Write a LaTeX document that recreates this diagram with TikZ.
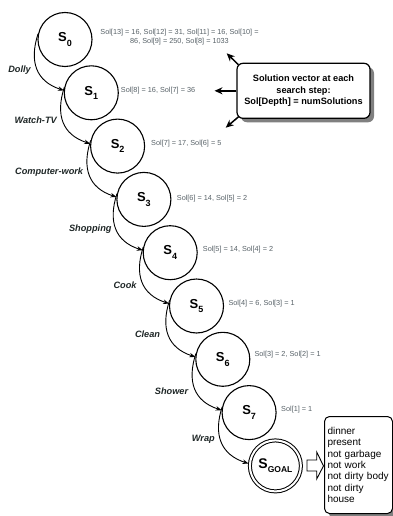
\documentclass[tikz,border=0pt]{standalone}
\usepackage{fontspec}
\setmainfont{Liberation Sans}
\usetikzlibrary{arrows.meta,shadows,calc}
\definecolor{solgray}{RGB}{88,98,104}
\definecolor{labdark}{RGB}{30,38,38}
\newcommand\stname[1]{{\fontsize{13}{13}\selectfont\bfseries S\raisebox{-4.5pt}{\fontsize{9}{9}\selectfont #1}}}
\begin{document}
\begin{tikzpicture}[x=1pt,y=1pt,
  state/.style={circle,draw,line width=1.1pt,minimum size=54pt,inner sep=0pt},
  chainarrow/.style={-{Stealth[length=6pt,width=4.5pt]},line width=0.9pt,looseness=1.2},
  act/.style={font=\fontsize{9.2}{10}\selectfont\bfseries\itshape,text=labdark,inner sep=0pt,anchor=east},
  sol/.style={font=\fontsize{7.3}{9}\selectfont,text=solgray,inner sep=0pt,anchor=west},
  callarrow/.style={-{Stealth[length=8pt,width=7pt]},line width=1.5pt},
  shadowed/.style={drop shadow={shadow xshift=4pt,shadow yshift=-4pt,fill=black!50,opacity=1}},
]
\useasboundingbox (0,0) rectangle (392,-516);

% states
\node[state] (S0) at (65,-39.5) {\stname{0}};
\node[state] (S1) at (91.3,-92.8) {\stname{1}};
\node[state] (S2) at (117.6,-146.1) {\stname{2}};
\node[state] (S3) at (143.9,-199.4) {\stname{3}};
\node[state] (S4) at (170.2,-252.7) {\stname{4}};
\node[state] (S5) at (196.5,-306) {\stname{5}};
\node[state] (S6) at (222.8,-359.3) {\stname{6}};
\node[state] (S7) at (249.1,-412.6) {\stname{7}};
\node[state,double,double distance=2pt,line width=1pt,minimum size=51pt,outer sep=1.5pt] (S8) at (275.4,-465.9)
  {{\fontsize{14}{14}\selectfont\bfseries S\raisebox{-4pt}{\fontsize{8.5}{8.5}\selectfont GOAL}}};

% transitions
\draw[chainarrow] (S0.168) to[out=-108,in=162] (S1.175);
\draw[chainarrow] (S1.168) to[out=-108,in=162] (S2.175);
\draw[chainarrow] (S2.168) to[out=-108,in=162] (S3.175);
\draw[chainarrow] (S3.168) to[out=-108,in=162] (S4.175);
\draw[chainarrow] (S4.168) to[out=-108,in=162] (S5.175);
\draw[chainarrow] (S5.168) to[out=-108,in=162] (S6.175);
\draw[chainarrow] (S6.168) to[out=-108,in=162] (S7.175);
\draw[chainarrow] (S7.168) to[out=-108,in=162] (S8.175);

% action labels
\node[act] (a0) at (31,-70) {Dolly};
\node[act] (a1) at (57,-120) {Watch-TV};
\node[act] (a2) at (83.3,-172) {Computer-work};
\node[act] (a3) at (111.7,-229.5) {Shopping};
\node[act] (a4) at (136.7,-285.7) {Cook};
\node[act] (a5) at (160.3,-334) {Clean};
\node[act] (a6) at (188.3,-391.7) {Shower};
\node[act] (a7) at (215,-439) {Wrap};

% solution vectors
\node[sol,anchor=center,align=center] (v0) at (179.5,-37) {Sol[13] = 16, Sol[12] = 31, Sol[11] = 16, Sol[10] =\\86, Sol[9] = 250, Sol[8] = 1033};
\node[sol] (v1) at (120.7,-91) {Sol[8] = 16, Sol[7] = 36};
\node[sol] (v2) at (151,-143.3) {Sol[7] = 17, Sol[6] = 5};
\node[sol] (v3) at (176.7,-198.3) {Sol[6] = 14, Sol[5] = 2};
\node[sol] (v4) at (202.7,-250) {Sol[5] = 14, Sol[4] = 2};
\node[sol] (v5) at (228.3,-303.3) {Sol[4] = 6, Sol[3] = 1};
\node[sol] (v6) at (254.3,-355) {Sol[3] = 2, Sol[2] = 1};
\node[sol] (v7) at (281,-410) {Sol[1] = 1};

% callout
\node[draw,line width=1.2pt,rounded corners=6pt,fill=white,minimum width=133pt,minimum height=55pt,
  align=center,font=\fontsize{9.2}{11.5}\selectfont\bfseries,shadowed] (callout) at (303.5,-90.8)
  {Solution vector at each\\search step:\\Sol[Depth] = numSolutions};
\coordinate (t1) at (226.7,-53.3);
\coordinate (t2) at (214.5,-90.8);
\coordinate (t3) at (225.7,-127.7);
\draw[callarrow] ($(callout.north west)+(2,-2)$) -- (t1);
\draw[callarrow] (callout.west) -- (t2);
\draw[callarrow] ($(callout.south west)+(2,2)$) -- (t3);

% goal description
\node[draw,line width=1pt,rounded corners=5pt,fill=white,anchor=north west,text width=62pt,inner xsep=3pt,
  minimum height=97pt,align=left,font=\fontsize{10}{11.3}\selectfont,shadowed] (goalbox) at (324,-416)
  {dinner\\present\\not garbage\\not work\\not dirty body\\not dirty\\house};
\draw[line width=0.9pt,fill=white] (307,-460) -- (316.7,-460) -- (316.7,-452) -- (323.5,-465.9)
  -- (316.7,-479) -- (316.7,-471) -- (307,-471) -- cycle;
\end{tikzpicture}
\end{document}
